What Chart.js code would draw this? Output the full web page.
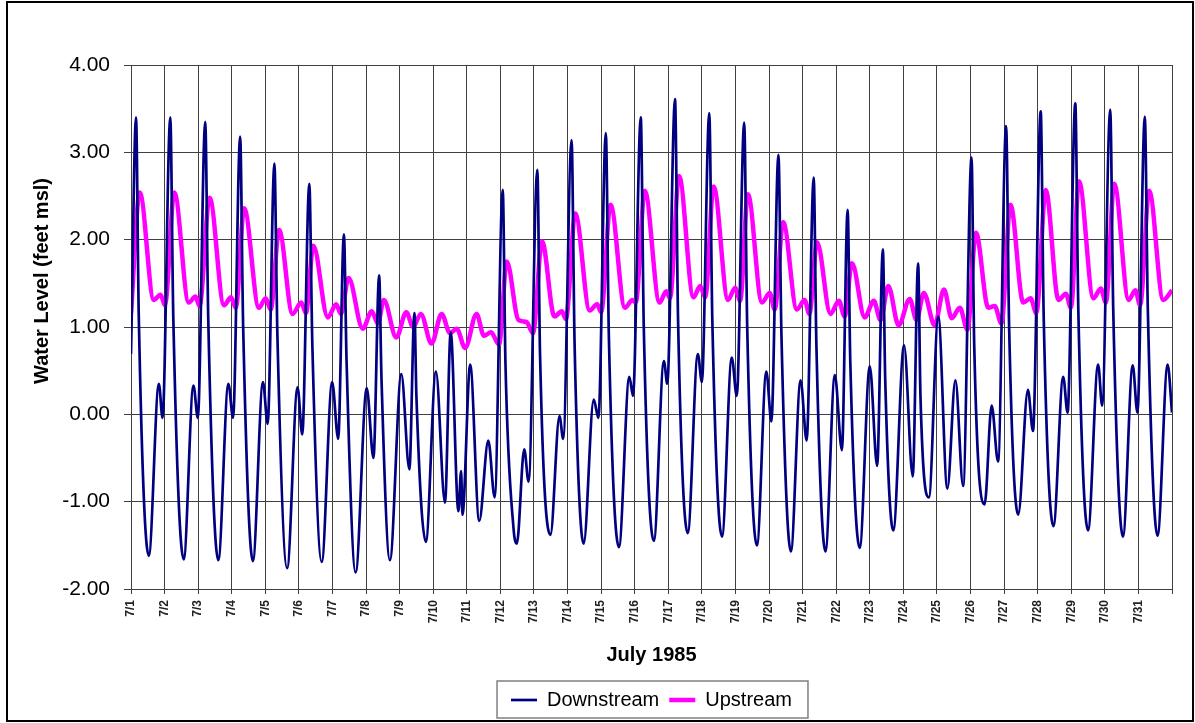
<!DOCTYPE html>
<html lang="en">
<head>
    <meta charset="UTF-8">
    <title>Water Level - July 1985</title>
    <script src="https://cdn.jsdelivr.net/npm/chart.js"></script>
    <style>
        html, body { margin: 0; padding: 0; background: #fff; }
        #wrap { position: relative; width: 1195px; height: 723px; }
        #frame { position: absolute; left: 6px; top: 1px; width: 1188px; height: 721px; border: 2px solid #000; box-sizing: border-box; pointer-events: none; }
        canvas { position: absolute; left: 0; top: 0; }
    </style>
</head>
<body>
    <div id="wrap">
        <canvas id="levelChart" width="1195" height="723"></canvas>
        <div id="frame"></div>
    </div>

    <script>
        // x axis labels, one per day of July 1985
        const dayLabels = ['7/1', '7/2', '7/3', '7/4', '7/5', '7/6', '7/7', '7/8', '7/9', '7/10',
            '7/11', '7/12', '7/13', '7/14', '7/15', '7/16', '7/17', '7/18', '7/19', '7/20',
            '7/21', '7/22', '7/23', '7/24', '7/25', '7/26', '7/27', '7/28', '7/29', '7/30', '7/31'];

        // Downstream gauge: time in days since 7/1 00:00, level in feet msl
        const downDay = [
            0.00, 0.15, 0.23, 0.53, 0.83, 0.94, 1.17, 1.26, 1.57, 1.86, 1.99, 2.21, 2.30, 2.60, 2.90, 3.04,
            3.25, 3.34, 3.63, 3.93, 4.07, 4.27, 4.36, 4.65, 4.96, 5.10, 5.31, 5.40, 5.68, 5.99, 6.17, 6.34,
            6.42, 6.69, 7.02, 7.22, 7.39, 7.46, 7.71, 8.05, 8.29, 8.44, 8.50, 8.78, 9.08, 9.35, 9.52, 9.75,
            9.83, 9.87, 10.10, 10.37, 10.64, 10.83, 11.07, 11.15, 11.39, 11.49, 11.71, 11.84, 12.10, 12.18,
            12.49, 12.76, 12.87, 13.12, 13.21, 13.48, 13.78, 13.92, 14.14, 14.23, 14.53, 14.84, 14.95, 15.18,
            15.27, 15.57, 15.87, 15.97, 16.20, 16.29, 16.58, 16.88, 17.00, 17.22, 17.31, 17.60, 17.89, 18.04,
            18.26, 18.35, 18.64, 18.92, 19.07, 19.28, 19.37, 19.65, 19.94, 20.12, 20.33, 20.41, 20.68, 20.96,
            21.17, 21.34, 21.42, 21.70, 22.00, 22.22, 22.39, 22.46, 22.70, 23.02, 23.28, 23.44, 23.51, 23.76,
            24.04, 24.31, 24.55, 24.78, 25.03, 25.11, 25.42, 25.63, 25.82, 26.06, 26.15, 26.42, 26.71, 26.86,
            27.09, 27.18, 27.47, 27.76, 27.89, 28.12, 28.21, 28.50, 28.80, 28.92, 29.16, 29.25, 29.54, 29.83,
            29.97, 30.19, 30.28, 30.57, 30.87, 31.00
        ];
        const downLevel = [
            0.69, 3.40, 1.15, -1.62, 0.35, -0.04, 3.40, 1.10, -1.66, 0.33, -0.04, 3.35, 1.10, -1.67, 0.35, -0.04,
            3.18, 1.00, -1.68, 0.37, -0.11, 2.87, 0.90, -1.76, 0.31, -0.23, 2.64, 0.80, -1.69, 0.37, -0.28, 2.06,
            0.60, -1.81, 0.30, -0.50, 1.59, 0.40, -1.67, 0.46, -0.63, 1.16, 0.20, -1.46, 0.49, -1.01, 0.94, -1.11,
            -0.65, -1.15, 0.57, -1.22, -0.30, -0.95, 2.57, 0.60, -1.30, -1.48, -0.40, -0.77, 2.80, 0.70,
            -1.38, -0.02, -0.28, 3.14, 0.80, -1.48, 0.17, -0.04, 3.22, 0.90, -1.52, 0.43, 0.21, 3.40,
            1.00, -1.45, 0.61, 0.35, 3.61, 1.10, -1.36, 0.69, 0.37, 3.45, 1.10, -1.40, 0.65, 0.21,
            3.34, 1.00, -1.50, 0.49, -0.08, 2.97, 0.90, -1.57, 0.39, -0.30, 2.71, 0.80, -1.57, 0.45,
            -0.41, 2.34, 0.60, -1.53, 0.55, -0.59, 1.89, 0.40, -1.33, 0.79, -0.71, 1.73, 0.20, -0.95,
            1.12, -0.85, 0.39, -0.82, 2.94, 0.80, -1.03, 0.10, -0.54, 3.30, 1.00, -1.15, 0.28, -0.19,
            3.47, 1.10, -1.28, 0.43, 0.02, 3.56, 1.20, -1.33, 0.57, 0.10, 3.49, 1.20, -1.40, 0.56,
            0.02, 3.41, 1.20, -1.39, 0.57, 0.02
        ];

        // Upstream gauge
        const upDay = [
            0.00, 0.26, 0.68, 0.88, 1.01, 1.29, 1.72, 1.92, 2.04, 2.34, 2.77, 2.98, 3.12, 3.37, 3.81, 4.01,
            4.16, 4.41, 4.81, 5.07, 5.21, 5.43, 5.86, 6.11, 6.25, 6.48, 6.90, 7.17, 7.35, 7.53, 7.90, 8.20,
            8.40, 8.63, 8.95, 9.25, 9.50, 9.70, 9.95, 10.29, 10.51, 10.72, 10.96, 11.19, 11.54, 11.77, 11.97,
            12.24, 12.61, 12.83, 12.95, 13.23, 13.66, 13.88, 14.00, 14.28, 14.71, 14.93, 15.03, 15.30, 15.74,
            15.94, 16.05, 16.32, 16.75, 16.95, 17.10, 17.35, 17.78, 17.99, 18.14, 18.37, 18.79, 19.02, 19.17,
            19.42, 19.83, 20.06, 20.20, 20.43, 20.83, 21.08, 21.25, 21.47, 21.85, 22.12, 22.32, 22.55, 22.86,
            23.19, 23.39, 23.61, 23.93, 24.21, 24.44, 24.68, 24.91, 25.16, 25.53, 25.72, 25.92, 26.19, 26.57,
            26.79, 26.96, 27.24, 27.62, 27.84, 27.99, 28.23, 28.66, 28.88, 29.03, 29.28, 29.71, 29.91, 30.05,
            30.32, 30.74, 31.00
        ];
        const upLevel = [
            1.16, 2.54, 1.31, 1.37, 1.25, 2.54, 1.28, 1.35, 1.24, 2.48, 1.25, 1.34, 1.22, 2.36, 1.22, 1.33,
            1.20, 2.11, 1.15, 1.28, 1.16, 1.93, 1.11, 1.26, 1.15, 1.56, 0.98, 1.18, 1.04, 1.31, 0.88, 1.17,
            1.00, 1.15, 0.81, 1.15, 0.93, 0.98, 0.76, 1.15, 0.90, 0.94, 0.80, 1.75, 1.08, 1.06, 0.93,
            1.98, 1.12, 1.18, 1.09, 2.30, 1.19, 1.26, 1.17, 2.40, 1.22, 1.31, 1.28, 2.56, 1.28,
            1.41, 1.33, 2.73, 1.34, 1.47, 1.34, 2.61, 1.31, 1.45, 1.30, 2.52, 1.28, 1.39, 1.20,
            2.20, 1.20, 1.31, 1.15, 1.97, 1.15, 1.30, 1.12, 1.73, 1.11, 1.30, 1.08, 1.47, 1.02,
            1.32, 1.08, 1.39, 1.02, 1.43, 1.10, 1.22, 0.97, 2.08, 1.22, 1.24, 1.04, 2.40, 1.28,
            1.33, 1.16, 2.57, 1.31, 1.38, 1.22, 2.67, 1.33, 1.44, 1.28, 2.64, 1.31, 1.42, 1.25,
            2.56, 1.31, 1.42
        ];

        const yTitle = 'Water Level (feet msl)';
        const xTitle = 'July 1985';

        Chart.defaults.font.family = '"Liberation Sans", Arial, sans-serif';
        Chart.defaults.color = '#000';

        function toPoints(xs, ys) {
            return xs.map((x, i) => ({ x: x, y: ys[i] }));
        }

        // y title sits a bit above centre in the original, and the legend has a box round it
        const extras = {
            id: 'extras',
            afterDraw(chart) {
                const ctx = chart.ctx;
                ctx.save();
                ctx.translate(42, 281);
                ctx.rotate(-Math.PI / 2);
                ctx.font = 'bold 20px "Liberation Sans", Arial, sans-serif';
                ctx.fillStyle = '#000';
                ctx.textAlign = 'center';
                ctx.textBaseline = 'middle';
                ctx.fillText(yTitle, 0, 0);
                ctx.restore();

                const boxes = chart.legend.legendHitBoxes;
                if (!boxes || !boxes.length) return;
                const left = Math.min(...boxes.map(b => b.left)) - 14;
                const right = Math.max(...boxes.map(b => b.left + b.width)) + 16;
                const top = boxes[0].top - 9;
                const bottom = boxes[0].top + boxes[0].height + 8;
                ctx.save();
                ctx.strokeStyle = '#808080';
                ctx.lineWidth = 1.5;
                ctx.strokeRect(left, top, right - left, bottom - top);
                ctx.restore();
            }
        };

        new Chart(document.getElementById('levelChart'), {
            type: 'line',
            data: {
                datasets: [
                    {
                        label: 'Downstream',
                        data: toPoints(downDay, downLevel),
                        borderColor: '#000080',
                        backgroundColor: '#000080',
                        borderWidth: 2.7,
                        pointRadius: 0,
                        cubicInterpolationMode: 'monotone',
                        fill: false
                    },
                    {
                        label: 'Upstream',
                        data: toPoints(upDay, upLevel),
                        borderColor: '#FF00FF',
                        backgroundColor: '#FF00FF',
                        borderWidth: 4.5,
                        pointRadius: 0,
                        cubicInterpolationMode: 'monotone',
                        fill: false
                    }
                ]
            },
            options: {
                responsive: false,
                animation: false,
                devicePixelRatio: 1,
                layout: { padding: { left: 0, top: 65, right: 23, bottom: 3 } },
                scales: {
                    x: {
                        type: 'linear',
                        min: 0,
                        max: 31,
                        ticks: {
                            stepSize: 1,
                            autoSkip: false,
                            minRotation: 90,
                            maxRotation: 90,
                            padding: 6,
                            font: { size: 12, weight: 'bold' },
                            color: '#222',
                            callback: v => dayLabels[v] || ''
                        },
                        grid: { color: '#404040', lineWidth: 1, tickLength: 5 },
                        border: { color: '#404040' },
                        title: {
                            display: true,
                            text: xTitle,
                            font: { size: 20, weight: 'bold' },
                            padding: { top: 0, bottom: 13 }
                        },
                        afterFit: s => { s.height = 91; }
                    },
                    y: {
                        min: -2,
                        max: 4,
                        ticks: {
                            stepSize: 1,
                            padding: 14,
                            font: { size: 21 },
                            callback: v => v.toFixed(2)
                        },
                        grid: { color: '#404040', lineWidth: 1, tickLength: 7 },
                        border: { color: '#404040' },
                        afterFit: s => { s.width = 131; }
                    }
                },
                plugins: {
                    legend: {
                        position: 'bottom',
                        fullSize: false,
                        labels: {
                            usePointStyle: true,
                            pointStyle: 'line',
                            pointStyleWidth: 26,
                            padding: 10,
                            font: { size: 20 },
                            color: '#000'
                        }
                    },
                    tooltip: { enabled: false }
                }
            },
            plugins: [extras]
        });
    </script>
</body>
</html>
